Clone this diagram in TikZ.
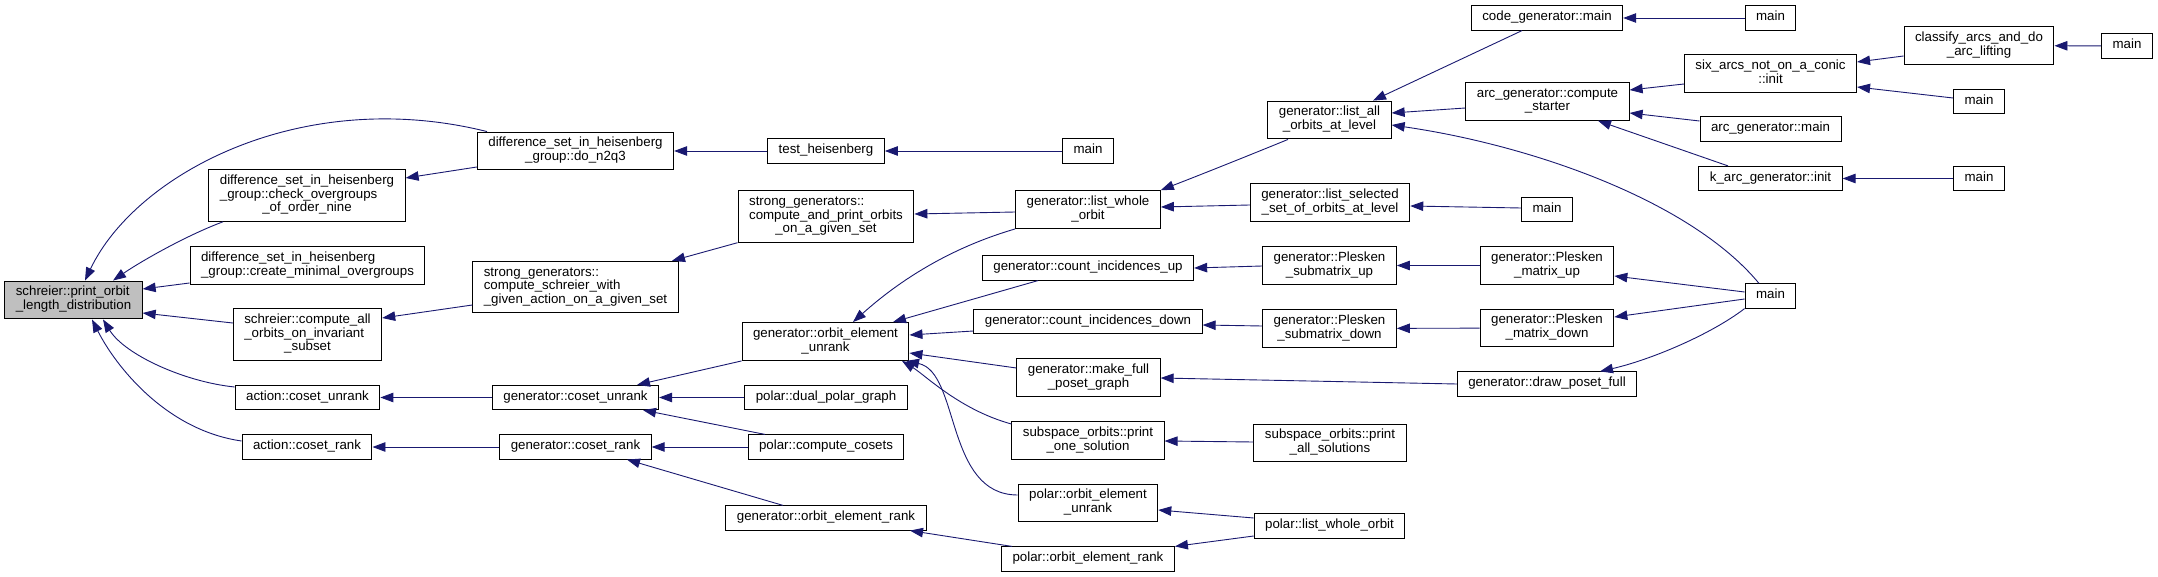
\documentclass[tikz,border=0pt]{standalone}
\usepackage{fontspec}
\setmainfont{Liberation Sans}
\usetikzlibrary{arrows.meta}
\definecolor{edgeblue}{HTML}{191970}
\definecolor{rootgray}{HTML}{BFBFBF}
\newcommand{\fl}[1]{\begin{tabular}{@{}l@{}}#1\end{tabular}}
\newcommand{\lc}[1]{\multicolumn{1}{@{}c@{}}{#1}}
\renewcommand{\arraystretch}{1}
\begin{document}
\begin{tikzpicture}[x=1pt,y=-1pt,
    fn/.style={draw=black,line width=1pt,inner xsep=11pt,inner ysep=5.25pt,font=\fontsize{13.3}{13.5}\selectfont},
    call/.style={draw=edgeblue,line width=0.9pt,arrows={Triangle[length=13pt,width=9.5pt]-}}]
    \useasboundingbox (0,0) rectangle (2158,577);

    \node[fn,fill=rootgray] (root) at (73.5,300) {\fl{schreier::print\_orbit\\\lc{\_length\_distribution}}};
    \node[fn] (n2q3) at (575.5,151) {\fl{difference\_set\_in\_heisenberg\\\lc{\_group::do\_n2q3}}};
    \node[fn] (check) at (307,195.5) {\fl{difference\_set\_in\_heisenberg\\\_group::check\_overgroups\\\lc{\_of\_order\_nine}}};
    \node[fn] (create) at (307.5,265.5) {\fl{difference\_set\_in\_heisenberg\\\lc{\_group::create\_minimal\_overgroups}}};
    \node[fn] (compall) at (307.5,334.5) {\fl{schreier::compute\_all\\\_orbits\_on\_invariant\\\lc{\_subset}}};
    \node[fn] (acunrank) at (307.5,397.5) {\fl{action::coset\_unrank}};
    \node[fn] (acrank) at (307,447) {\fl{action::coset\_rank}};

    \node[fn] (testh) at (826,151) {\fl{test\_heisenberg}};
    \node[fn] (mainA) at (1088,151) {\fl{main}};
    \node[fn] (sgprint) at (826,216.5) {\fl{strong\_generators::\\compute\_and\_print\_orbits\\\lc{\_on\_a\_given\_set}}};
    \node[fn] (sgschreier) at (575.5,287) {\fl{strong\_generators::\\compute\_schreier\_with\\\lc{\_given\_action\_on\_a\_given\_set}}};
    \node[fn] (gcunrank) at (575.5,397.5) {\fl{generator::coset\_unrank}};
    \node[fn] (gcrank) at (575.5,447) {\fl{generator::coset\_rank}};

    \node[fn] (oeunrank) at (825.5,341.5) {\fl{generator::orbit\_element\\\lc{\_unrank}}};
    \node[fn] (dualpg) at (826,397.5) {\fl{polar::dual\_polar\_graph}};
    \node[fn] (cosets) at (826,447) {\fl{polar::compute\_cosets}};
    \node[fn] (goerank) at (826,518) {\fl{generator::orbit\_element\_rank}};

    \node[fn] (listwhole) at (1088,209.5) {\fl{generator::list\_whole\\\lc{\_orbit}}};
    \node[fn] (ciup) at (1088,268) {\fl{generator::count\_incidences\_up}};
    \node[fn] (cidown) at (1088,321.5) {\fl{generator::count\_incidences\_down}};
    \node[fn] (mkposet) at (1088.5,377.5) {\fl{generator::make\_full\\\lc{\_poset\_graph}}};
    \node[fn] (onesol) at (1088,440.5) {\fl{subspace\_orbits::print\\\lc{\_one\_solution}}};
    \node[fn] (poeunrank) at (1088,503) {\fl{polar::orbit\_element\\\lc{\_unrank}}};
    \node[fn] (poerank) at (1088,559) {\fl{polar::orbit\_element\_rank}};

    \node[fn] (listall) at (1329.5,120) {\fl{generator::list\_all\\\lc{\_orbits\_at\_level}}};
    \node[fn] (listsel) at (1330,202.5) {\fl{generator::list\_selected\\\lc{\_set\_of\_orbits\_at\_level}}};
    \node[fn] (psubup) at (1329.5,265.5) {\fl{generator::Plesken\\\lc{\_submatrix\_up}}};
    \node[fn] (psubdown) at (1329.5,328.5) {\fl{generator::Plesken\\\lc{\_submatrix\_down}}};
    \node[fn] (allsol) at (1330,443) {\fl{subspace\_orbits::print\\\lc{\_all\_solutions}}};
    \node[fn] (plistwhole) at (1329.5,526) {\fl{polar::list\_whole\_orbit}};

    \node[fn] (mainB) at (1547,209.5) {\fl{main}};
    \node[fn] (codegen) at (1547,18) {\fl{code\_generator::main}};
    \node[fn] (compstarter) at (1547.5,101.5) {\fl{arc\_generator::compute\\\lc{\_starter}}};
    \node[fn] (pmup) at (1547,265.5) {\fl{generator::Plesken\\\lc{\_matrix\_up}}};
    \node[fn] (pmdown) at (1547,328) {\fl{generator::Plesken\\\lc{\_matrix\_down}}};
    \node[fn] (drawposet) at (1547,384) {\fl{generator::draw\_poset\_full}};

    \node[fn] (mainC) at (1770.5,18) {\fl{main}};
    \node[fn] (sixarcs) at (1770.5,73.5) {\fl{six\_arcs\_not\_on\_a\_conic\\\lc{::init}}};
    \node[fn] (arcmain) at (1770.5,129) {\fl{arc\_generator::main}};
    \node[fn] (karc) at (1770.5,178.5) {\fl{k\_arc\_generator::init}};
    \node[fn] (mainD) at (1770.5,296) {\fl{main}};
    \node[fn] (classify) at (1979,45.5) {\fl{classify\_arcs\_and\_do\\\lc{\_arc\_lifting}}};
    \node[fn] (mainE) at (1979,101.5) {\fl{main}};
    \node[fn] (mainF) at (1979,178.5) {\fl{main}};
    \node[fn] (mainG) at (2127,46) {\fl{main}};

    \draw[call] (root.north -| 85,0) .. controls (135,175) and (300,85) .. (n2q3.north -| 487,0);
    \draw[call] (root.north -| 113,0) .. controls (140,262) and (185,236) .. (check.south -| 223,0);
    \draw[call] (root.east |- 0,289) -- (create.west |- 0,283);
    \draw[call] (root.east |- 0,313) -- (compall.west |- 0,323);
    \draw[call] (root.south -| 103,0) .. controls (125,355) and (185,382) .. (acunrank.west |- 0,387);
    \draw[call] (root.south -| 92,0) .. controls (115,365) and (165,430) .. (acrank.west |- 0,441);
    \draw[call] (check.east |- 0,178) -- (n2q3.west |- 0,167);
    \draw[call] (n2q3) -- (testh);
    \draw[call] (testh) -- (mainA);
    \draw[call] (compall.east |- 0,318) -- (sgschreier.west |- 0,305);
    \draw[call] (sgschreier.north -| 672,0) -- (sgprint.south west);
    \draw[call] (sgprint.east |- 0,214) -- (listwhole.west |- 0,212);
    \draw[call] (acunrank) -- (gcunrank);
    \draw[call] (acrank) -- (gcrank);
    \draw[call] (gcunrank.north -| 637,0) -- (oeunrank.south west);
    \draw[call] (gcunrank) -- (dualpg);
    \draw[call] (gcunrank.south -| 643,0) -- (cosets.north -| 765,0);
    \draw[call] (gcrank) -- (cosets);
    \draw[call] (gcrank.south -| 627,0) -- (goerank.north -| 783,0);
    \draw[call] (goerank.south -| 910,0) -- (poerank.north -| 1012,0);
    \draw[call] (poerank.north east) -- (plistwhole.west |- 0,536);
    \draw[call] (poeunrank.east |- 0,510) -- (plistwhole.west |- 0,518);
    \draw[call] (oeunrank.north -| 853,0) .. controls (900,280) and (950,248) .. (listwhole.south west);
    \draw[call] (oeunrank.north -| 893,0) -- (ciup.south -| 1038,0);
    \draw[call] (oeunrank.east |- 0,335) -- (cidown.west |- 0,331);
    \draw[call] (oeunrank.east |- 0,353) -- (mkposet.west |- 0,368);
    \draw[call] (oeunrank.south -| 902,0) .. controls (925,375) and (960,410) .. (onesol.west |- 0,424);
    \draw[call] (oeunrank.south -| 906,0) .. controls (960,372) and (945,495) .. (poeunrank.west |- 0,495);
    \draw[call] (listwhole.north east) .. controls (1200,175) and (1250,155) .. (listall.south -| 1288,0);
    \draw[call] (listwhole.east |- 0,207) -- (listsel.west |- 0,205);
    \draw[call] (listall.north -| 1373,0) -- (codegen.south -| 1522,0);
    \draw[call] (listall.east |- 0,113) -- (compstarter.west |- 0,108);
    \draw[call] (listall.east |- 0,125) .. controls (1530,145) and (1690,200) .. (mainD.north -| 1759,0);
    \draw[call] (compstarter.east |- 0,90) -- (sixarcs.west |- 0,84);
    \draw[call] (compstarter.east |- 0,113) -- (arcmain.west |- 0,121);
    \draw[call] (compstarter.south -| 1598,0) -- (karc.north -| 1728,0);
    \draw[call] (sixarcs.east |- 0,62) -- (classify.west |- 0,56);
    \draw[call] (sixarcs.east |- 0,87) -- (mainE.west |- 0,98);
    \draw[call] (classify) -- (mainG);
    \draw[call] (karc) -- (mainF);
    \draw[call] (codegen) -- (mainC);
    \draw[call] (listsel.east |- 0,206) -- (mainB.west |- 0,208);
    \draw[call] (ciup.east |- 0,268) -- (psubup.west |- 0,266);
    \draw[call] (psubup) -- (pmup);
    \draw[call] (pmup.east |- 0,276) -- (mainD.west |- 0,292);
    \draw[call] (cidown.east |- 0,325) -- (psubdown.west |- 0,326);
    \draw[call] (psubdown) -- (pmdown);
    \draw[call] (pmdown.east |- 0,317) -- (mainD.west |- 0,299);
    \draw[call] (drawposet.north -| 1600,0) .. controls (1650,360) and (1710,335) .. (mainD.south west);
    \draw[call] (mkposet.east |- 0,378) -- (drawposet.west |- 0,384);
    \draw[call] (onesol.east |- 0,441) -- (allsol.west |- 0,442);
\end{tikzpicture}
\end{document}
